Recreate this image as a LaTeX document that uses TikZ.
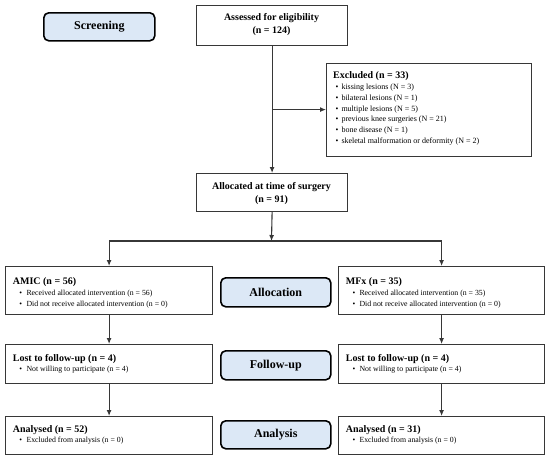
\documentclass[tikz,border=0pt]{standalone}
\usepackage{fontspec}
\setmainfont{Liberation Serif}
\usetikzlibrary{arrows.meta}
\definecolor{lblfill}{RGB}{220,232,246}
\definecolor{edgec}{RGB}{55,55,55}
\begin{document}
\begin{tikzpicture}[x=1pt,y=-1pt,
  box/.style={draw=edgec, line width=1.2pt, fill=white, rectangle, inner sep=0pt, anchor=north west},
  lbl/.style={draw=black, line width=1.6pt, fill=lblfill, rounded corners=5pt, inner sep=0pt, anchor=north west, font=\fontsize{12}{14}\selectfont\bfseries},
  ttl/.style={inner sep=0pt, anchor=base west, font=\fontsize{10}{12}\selectfont\bfseries},
  ctr/.style={inner sep=0pt, anchor=base, font=\fontsize{10}{12}\selectfont\bfseries},
  itm/.style={inner sep=0pt, anchor=base west, font=\fontsize{7.8}{9}\selectfont},
  exi/.style={inner sep=0pt, anchor=base west, font=\fontsize{8}{9}\selectfont},
  arr/.style={draw=edgec, line width=1.1pt, -{Latex[length=6pt,width=5pt]}},
  ln/.style={draw=edgec, line width=1.1pt}
]
\useasboundingbox (0,0) rectangle (550,458);

% phase labels
\node[lbl, minimum width=111pt, minimum height=28pt] (screening) at (43,12) {Screening};
\node[lbl, minimum width=110pt, minimum height=29pt] (allocation) at (220,277) {Allocation};
\node[lbl, minimum width=110pt, minimum height=29pt] (followup) at (220,350) {Follow-up};
\node[lbl, minimum width=110pt, minimum height=28pt] (analysis) at (220,420) {Analysis};

% boxes
\node[box, minimum width=151pt, minimum height=40pt] (assess) at (196,4.5) {};
\node[ctr] (assessA) at (271.5,20.7) {Assessed for eligibility};
\node[ctr] (assessB) at (271.5,33.3) {(n = 124)};

\node[box, minimum width=205pt, minimum height=93pt] (excl) at (326,62.5) {};
\node[ttl] (exclT) at (333,78) {Excluded (n = 33)};
\node[exi] (ex1) at (335.5,89.7) {\textbullet\hspace{3pt}kissing lesions (N = 3)};
\node[exi] (ex2) at (335.5,100.4) {\textbullet\hspace{3pt}bilateral lesions (N = 1)};
\node[exi] (ex3) at (335.5,111.1) {\textbullet\hspace{3pt}multiple lesions (N = 5)};
\node[exi] (ex4) at (335.5,121.8) {\textbullet\hspace{3pt}previous knee surgeries (N = 21)};
\node[exi] (ex5) at (335.5,132.5) {\textbullet\hspace{3pt}bone disease (N = 1)};
\node[exi] (ex6) at (335.5,143.2) {\textbullet\hspace{3pt}skeletal malformation or deformity (N = 2)};

\node[box, minimum width=151pt, minimum height=38pt] (alloc) at (196,173) {};
\node[ctr] (allocA) at (271.5,189.5) {Allocated at time of surgery};
\node[ctr] (allocB) at (271.5,202) {(n = 91)};

% left arm
\node[box, minimum width=207pt, minimum height=48pt] (amic) at (5,266) {};
\node[ttl] (amicT) at (12.7,284) {AMIC (n = 56)};
\node[itm] (amic1) at (19.3,295.3) {\textbullet\hspace{4.3pt}Received allocated intervention (n = 56)};
\node[itm] (amic2) at (19.3,306.3) {\textbullet\hspace{4.3pt}Did not receive allocated intervention (n = 0)};

\node[box, minimum width=207pt, minimum height=39pt] (lostL) at (5,344) {};
\node[ttl] (lostLT) at (12.7,361) {Lost to follow-up (n = 4)};
\node[itm] (lostL1) at (19.3,371) {\textbullet\hspace{4.3pt}Not willing to participate (n = 4)};

\node[box, minimum width=207pt, minimum height=38pt] (anaL) at (5,416) {};
\node[ttl] (anaLT) at (12.7,432) {Analysed (n = 52)};
\node[itm] (anaL1) at (19.3,442) {\textbullet\hspace{4.3pt}Excluded from analysis (n = 0)};

% right arm
\node[box, minimum width=206pt, minimum height=48pt] (mfx) at (338,266) {};
\node[ttl] (mfxT) at (345.7,284) {MFx (n = 35)};
\node[itm] (mfx1) at (352.3,295.3) {\textbullet\hspace{4.3pt}Received allocated intervention (n = 35)};
\node[itm] (mfx2) at (352.3,306.3) {\textbullet\hspace{4.3pt}Did not receive allocated intervention (n = 0)};

\node[box, minimum width=206pt, minimum height=39pt] (lostR) at (338,344) {};
\node[ttl] (lostRT) at (345.7,361) {Lost to follow-up (n = 4)};
\node[itm] (lostR1) at (352.3,371) {\textbullet\hspace{4.3pt}Not willing to participate (n = 4)};

\node[box, minimum width=206pt, minimum height=38pt] (anaR) at (338,416) {};
\node[ttl] (anaRT) at (345.7,432) {Analysed (n = 31)};
\node[itm] (anaR1) at (352.3,442) {\textbullet\hspace{4.3pt}Excluded from analysis (n = 0)};

% connectors
\coordinate (brk) at (assess.south |- excl.west);
\coordinate (split) at (271.5,241);
\draw[arr] (assess.south) -- (alloc.north);
\draw[arr] (brk) -- (excl.west);
\draw[arr] (alloc.south) -- (split);
\draw[arr] (split) -| (amic.north);
\draw[arr] (split) -| (mfx.north);
\draw[arr] (amic.south) -- (lostL.north);
\draw[arr] (lostL.south) -- (anaL.north);
\draw[arr] (mfx.south) -- (lostR.north);
\draw[arr] (lostR.south) -- (anaR.north);
\end{tikzpicture}
\end{document}
